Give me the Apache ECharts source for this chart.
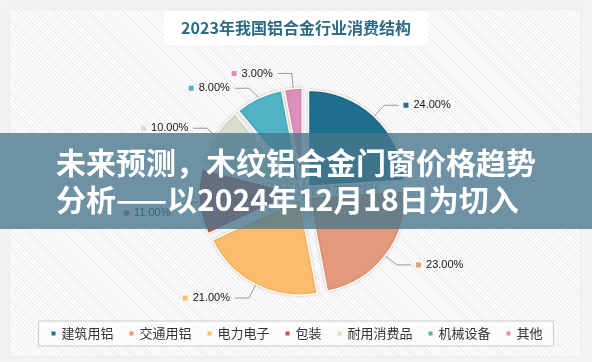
<!DOCTYPE html>
<html>
<head>
<meta charset="utf-8">
<script src="https://cdn.jsdelivr.net/npm/echarts@6/dist/echarts.min.js"></script>
<style>
  html, body { margin: 0; padding: 0; width: 592px; height: 362px; overflow: hidden; background: #f3f3f3; }
  #card { position: absolute; left: 10px; top: 10px; width: 570px; height: 346px;
    background: repeating-linear-gradient(45deg, #fbfbfb 0px, #fbfbfb 2px, #eeeeee 2px, #eeeeee 3px);
    box-shadow: 0 0 4px rgba(0,0,0,0.06); }
  #chart { position: absolute; left: 0; top: 0; width: 592px; height: 362px; }
</style>
</head>
<body>
<div id="card"></div>
<div id="chart"></div>
<script>
const titleText = '2023年我国铝合金行业消费结构';
const categories = ['建筑用铝', '交通用铝', '电力电子', '包装', '耐用消费品', '机械设备', '其他'];
const shares = [24, 23, 21, 11, 10, 8, 3];
const sliceColors = ['#1f6f8f', '#e39a7c', '#fbbd6d', '#c4524f', '#d6dfcf', '#4fb3c4', '#dc8fb8'];
const bannerLines = ['未来预测，木纹铝合金门窗价格趋势', '分析——以2024年12月18日为切入'];

const chart = echarts.init(document.getElementById('chart'), null, { renderer: 'canvas' });

const data = categories.map((name, i) => ({
  name: name,
  value: shares[i],
  selected: true,
  itemStyle: { color: sliceColors[i] },
  label: {
    rich: {
      m: { width: 5, height: 5, backgroundColor: sliceColors[i] },
      v: { fontSize: 11, color: '#151515', fontFamily: 'Liberation Sans, Arial, sans-serif', padding: [0, 0, 0, 5] }
    }
  }
}));

const option = {
  backgroundColor: 'transparent',
  animation: false,
  color: sliceColors,
  title: {
    text: titleText,
    left: 'center',
    top: 11,
    padding: [9, 17, 9, 17],
    backgroundColor: 'rgba(255,255,255,0.95)',
    textStyle: { fontSize: 16, fontWeight: 'bold', color: '#2c6b84', fontFamily: 'Noto Sans CJK SC' }
  },
  legend: {
    left: 'center',
    top: 321,
    padding: [6, 11],
    borderColor: '#cccccc',
    borderWidth: 1,
    backgroundColor: 'rgba(255,255,255,0.6)',
    itemGap: 14,
    itemWidth: 6,
    itemHeight: 6,
    icon: 'rect',
    textStyle: { fontSize: 13, color: '#333', fontFamily: 'Noto Sans CJK SC' },
    selectedMode: false,
    data: categories
  },
  series: [{
    type: 'pie',
    center: [303, 192],
    radius: 96,
    startAngle: 90,
    clockwise: true,
    selectedMode: 'multiple',
    selectedOffset: 8,
    itemStyle: {
      borderColor: '#fffaf0',
      borderWidth: 1.5,
      shadowBlur: 3,
      shadowColor: 'rgba(0,0,0,0.18)'
    },
    label: {
      show: true,
      position: 'outside',
      formatter: p => '{m|}{v|' + p.value.toFixed(2) + '%}'
    },
    labelLine: {
      show: true,
      length: 15,
      length2: 14,
      lineStyle: { color: '#9a9a9a', width: 1 }
    },
    labelLayout: p => (p.dataIndex === 3 ? { dy: 10 } : {}),
    emphasis: { disabled: true },
    data: data
  }],
  graphic: [
    {
      type: 'text', z: 1, silent: true,
      style: { text: '观研报告网', x: 320, y: 188, align: 'center', verticalAlign: 'middle',
        font: 'bold 24px "Noto Sans CJK SC"', fill: 'rgba(60,60,70,0.22)' }
    },
    {
      type: 'text', z: 1, silent: true,
      style: { text: 'chinabaogao.com', x: 320, y: 213, align: 'center', verticalAlign: 'middle',
        font: '15px "Liberation Sans"', fill: 'rgba(60,60,70,0.3)' }
    },
    {
      type: 'rect', z: 100, silent: true,
      shape: { x: 0, y: 133, width: 592, height: 96 },
      style: { fill: 'rgba(72,118,140,0.78)' }
    },
    {
      type: 'text', z: 101, silent: true,
      style: { text: bannerLines[0], x: 56, y: 163, align: 'left', verticalAlign: 'middle',
        font: 'bold 30px "Noto Sans CJK SC"', fill: '#ffffff' }
    },
    {
      type: 'text', z: 101, silent: true,
      style: { text: bannerLines[1], x: 56, y: 200, align: 'left', verticalAlign: 'middle',
        font: 'bold 30px "Noto Sans CJK SC"', fill: '#ffffff' }
    }
  ]
};
chart.setOption(option);
</script>
</body>
</html>
